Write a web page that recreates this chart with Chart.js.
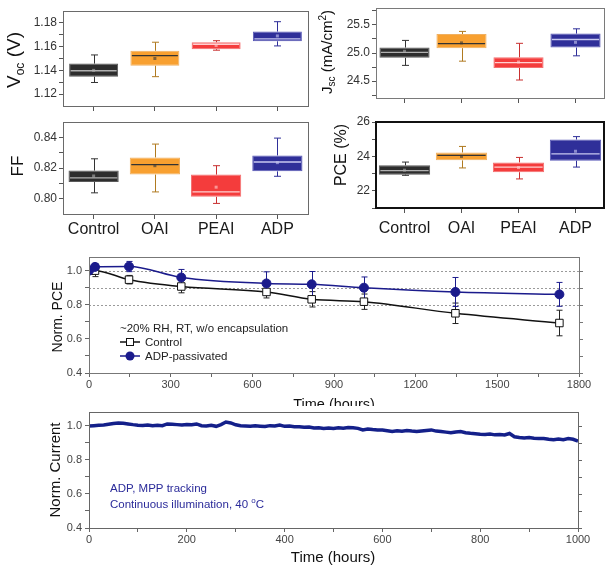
<!DOCTYPE html>
<html><head><meta charset="utf-8">
<script src="https://cdn.jsdelivr.net/npm/chart.js@4.4.0/dist/chart.umd.min.js"></script>
<style>
html,body{margin:0;padding:0;background:#fff;}
#wrap{position:relative;width:615px;height:571px;overflow:hidden;background:#fff;}
.c{position:absolute;overflow:hidden;}
</style></head><body><div id="wrap"></div>
<script>
const FONT = '"Liberation Sans", Arial, Helvetica, sans-serif';

// ---------------- DATA ----------------
const categories = ['Control', 'OAI', 'PEAI', 'ADP'];

const vocMin  = [1.1298, 1.1347, 1.1570, 1.1606];
const vocQ1   = [1.1347, 1.1439, 1.1578, 1.1645];
const vocMed  = [1.1397, 1.1525, 1.1620, 1.1665];
const vocQ3   = [1.1457, 1.1565, 1.1637, 1.1727];
const vocMax  = [1.1530, 1.1637, 1.1650, 1.1810];
const vocMean = [1.1400, 1.1500, 1.1610, 1.1690];
const vocTicks = [1.12, 1.14, 1.16, 1.18];
const vocMinor = [1.13, 1.15, 1.17];

const jscMin  = [24.78, 24.855, 24.52, 24.95];
const jscQ1   = [24.914, 25.086, 24.734, 25.097];
const jscMed  = [25.01, 25.166, 24.828, 25.24];
const jscQ3   = [25.097, 25.338, 24.924, 25.345];
const jscMax  = [25.224, 25.384, 25.172, 25.43];
const jscMean = [25.03, 25.18, 24.84, 25.19];
const jscTicks = [24.5, 25.0, 25.5];
const jscMinor = [24.25, 24.75, 25.25, 25.75];

const ffMin  = [0.8038, 0.8044, 0.7969, 0.8146];
const ffQ1   = [0.8109, 0.8157, 0.8012, 0.8178];
const ffMed  = [0.8135, 0.8222, 0.8044, 0.8239];
const ffQ3   = [0.8183, 0.8269, 0.8157, 0.8282];
const ffMax  = [0.8260, 0.8356, 0.8215, 0.8395];
const ffMean = [0.8148, 0.8215, 0.8075, 0.8235];
const ffTicks = [0.80, 0.82, 0.84];
const ffMinor = [0.81, 0.83];

const pceMin  = [22.90, 23.33, 22.69, 23.38];
const pceQ1   = [22.94, 23.77, 23.08, 23.75];
const pceMed  = [23.17, 24.06, 23.38, 24.15];
const pceQ3   = [23.48, 24.23, 23.65, 24.98];
const pceMax  = [23.67, 24.58, 23.94, 25.15];
const pceMean = [23.20, 24.00, 23.35, 24.30];
const pceTicks = [22, 24, 26];
const pceMinor = [21, 23, 25];

const stabHours      = [0, 22, 147, 339, 652, 818, 1010, 1346, 1728];
const stabControl    = [1.000, 1.000, 0.947, 0.907, 0.875, 0.832, 0.818, 0.750, 0.693];
const stabControlErr = [0, 0.035, 0.025, 0.037, 0.035, 0.045, 0.045, 0.060, 0.075];
const stabADP        = [1.000, 1.022, 1.024, 0.960, 0.925, 0.920, 0.900, 0.875, 0.861];
const stabADPErr     = [0, 0.020, 0.030, 0.047, 0.068, 0.075, 0.063, 0.085, 0.070];
const stabRefLines   = [0.8, 0.9, 1.0];
const stabXTicks = [0, 300, 600, 900, 1200, 1500, 1800];
const stabXMinor = [150, 450, 750, 1050, 1350, 1650];
const normYTicks = [0.4, 0.6, 0.8, 1.0];
const normYMinor = [0.5, 0.7, 0.9];

const mppHours = [0,10,20,30,40,50,60,70,80,90,100,110,120,130,140,150,160,170,180,190,200,
  210,220,230,240,250,260,270,280,290,300,310,320,330,340,350,360,370,380,390,400,
  410,420,430,440,450,460,470,480,490,500,510,520,530,540,550,560,570,580,590,600,
  610,620,630,640,650,660,670,680,690,700,710,720,730,740,750,760,770,780,790,800,
  810,820,830,840,850,860,870,880,890,900,910,920,930,940,950,960,970,980,990,1000];
const mppCurrent = [0.998,1.000,1.002,1.004,1.008,1.012,1.016,1.014,1.010,1.006,1.003,
  1.001,1.004,0.999,1.002,1.000,1.010,1.008,1.006,1.004,1.007,
  1.005,1.010,1.000,0.998,1.002,0.996,1.006,1.021,1.016,1.005,
  1.000,0.998,0.996,0.999,0.997,0.995,1.000,0.998,1.004,0.996,
  0.998,0.994,0.993,0.990,0.992,0.986,0.988,0.984,0.986,0.984,
  0.987,0.985,0.989,0.988,0.984,0.975,0.980,0.977,0.975,0.974,
  0.970,0.966,0.970,0.967,0.971,0.968,0.966,0.969,0.972,0.975,
  0.968,0.966,0.962,0.958,0.963,0.965,0.958,0.955,0.953,0.950,
  0.948,0.951,0.946,0.948,0.945,0.954,0.935,0.930,0.928,0.930,
  0.926,0.924,0.925,0.920,0.918,0.922,0.918,0.924,0.920,0.910];
const mppXTicks = [0, 200, 400, 600, 800, 1000];
const mppXMinor = [100, 300, 500, 700, 900];

// ---------------- STYLE ----------------
const boxFill   = ['#2d2d2d', '#f8a030', '#f43c3c', '#2f2f99'];
const boxEdge   = ['#5a5a5a', '#f0b060', '#f47070', '#5a5ab8'];
const boxWhisk  = ['#333333', '#b07a20', '#c83030', '#2f2f99'];
const boxMedian = ['#b0b0b0', '#333333', '#ffd0d0', '#c8c8f0'];

// ---------------- HELPERS ----------------
const wrap = document.getElementById('wrap');
function mount(area, yW, xH, clipBottom) {
  const padT = 14, padR = 20;
  const left = area.L - yW, top = area.T - padT;
  const w = area.R - left + padR, h = area.B - top + xH;
  const holder = document.createElement('div');
  holder.className = 'c';
  holder.style.left = left + 'px'; holder.style.top = top + 'px';
  holder.style.width = w + 'px';
  holder.style.height = (clipBottom ? clipBottom - top : h) + 'px';
  const cv = document.createElement('canvas');
  cv.width = w; cv.height = h; cv.style.width = w + 'px'; cv.style.height = h + 'px';
  holder.appendChild(cv); wrap.appendChild(holder);
  return {cv, left, top, padT, padR};
}
function near(a, b) { return Math.abs(a - b) < 1e-6; }
function tickSetup(major, minor, fmt) {
  return {
    afterBuildTicks: s => { s.ticks = major.concat(minor).sort((a, b) => a - b).map(v => ({value: v})); },
    callback: v => major.some(m => near(m, v)) ? fmt(v) : ''
  };
}
function drawRich(ctx, segs, x, y, rot, align, color) {
  ctx.save();
  ctx.translate(x, y);
  if (rot) ctx.rotate(rot);
  ctx.fillStyle = color || '#111';
  ctx.textBaseline = 'alphabetic';
  let total = 0, main = 0;
  segs.forEach(s => { ctx.font = s.size + 'px ' + FONT; s.w = ctx.measureText(s.t).width; total += s.w; main = Math.max(main, s.size); });
  let cx = align === 'left' ? 0 : -total / 2;
  const base = main * 0.36;
  segs.forEach(s => { ctx.font = s.size + 'px ' + FONT; ctx.fillText(s.t, cx, base + (s.dy || 0)); cx += s.w; });
  ctx.restore();
}
function line(ctx, x1, y1, x2, y2) { ctx.beginPath(); ctx.moveTo(x1, y1); ctx.lineTo(x2, y2); ctx.stroke(); }

const framePlugin = {
  id: 'frame',
  afterDraw(chart, args, o) {
    const {ctx, chartArea: a} = chart;
    ctx.save();
    ctx.strokeStyle = o.color || '#666';
    ctx.lineWidth = o.width || 1;
    const off = (o.width || 1) % 2 ? 0.5 : 0;
    ctx.strokeRect(Math.round(a.left) + off, Math.round(a.top) + off, Math.round(a.right - a.left), Math.round(a.bottom - a.top));
    if (o.mirror) {
      const ys = chart.scales.y;
      ctx.lineWidth = 1; ctx.strokeStyle = o.tickColor || '#666';
      ys.ticks.forEach(t => { const py = Math.round(ys.getPixelForValue(t.value)) + 0.5; line(ctx, a.right, py, a.right + 4, py); });
    }
    ctx.restore();
  }
};
const refPlugin = {
  id: 'reflines',
  beforeDatasetsDraw(chart, args, o) {
    if (!o.values) return;
    const {ctx, chartArea: a} = chart; const ys = chart.scales.y;
    ctx.save(); ctx.strokeStyle = '#9a9a9a'; ctx.lineWidth = 1; ctx.setLineDash([2, 2]);
    o.values.forEach(v => { const py = Math.round(ys.getPixelForValue(v)) + 0.5; line(ctx, a.left, py, a.right, py); });
    ctx.restore();
  }
};
const errPlugin = {
  id: 'errbars',
  beforeDatasetsDraw(chart, args, o) {
    if (!o.series) return;
    const {ctx} = chart; const xs = chart.scales.x, ys = chart.scales.y;
    ctx.save(); ctx.lineWidth = 1;
    o.series.forEach(s => {
      ctx.strokeStyle = s.color;
      s.x.forEach((xv, i) => {
        const e = s.err[i]; if (!e) return;
        const px = Math.round(xs.getPixelForValue(xv)) + 0.5;
        const p1 = ys.getPixelForValue(s.y[i] + e), p2 = ys.getPixelForValue(s.y[i] - e);
        line(ctx, px, p1, px, p2);
        line(ctx, px - 3, p1, px + 3, p1);
        line(ctx, px - 3, p2, px + 3, p2);
      });
    });
    ctx.restore();
  }
};
const boxPlugin = {
  id: 'boxp',
  afterDatasetsDraw(chart, args, o) {
    if (!o.min) return;
    const {ctx} = chart; const ys = chart.scales.y;
    const meta = chart.getDatasetMeta(0);
    meta.data.forEach((bar, i) => {
      const x = Math.round(bar.x) + 0.5, hw = bar.width / 2;
      const yq1 = ys.getPixelForValue(o.q1[i]), yq3 = ys.getPixelForValue(o.q3[i]);
      const ymin = ys.getPixelForValue(o.min[i]), ymax = ys.getPixelForValue(o.max[i]);
      const ymed = ys.getPixelForValue(o.med[i]), ymean = ys.getPixelForValue(o.mean[i]);
      ctx.save();
      ctx.strokeStyle = boxWhisk[i]; ctx.lineWidth = 1;
      line(ctx, x, yq3, x, ymax); line(ctx, x, yq1, x, ymin);
      line(ctx, x - 3.5, ymax, x + 3.5, ymax); line(ctx, x - 3.5, ymin, x + 3.5, ymin);
      ctx.strokeStyle = boxMedian[i]; ctx.lineWidth = 1.3;
      line(ctx, bar.x - hw + 1.5, ymed, bar.x + hw - 1.5, ymed);
      ctx.fillStyle = boxMedian[i];
      ctx.globalAlpha = 0.6;
      ctx.fillRect(bar.x - 1.5, ymean - 1.5, 3, 3);
      ctx.restore();
    });
  }
};
const textPlugin = {
  id: 'texts',
  afterDraw(chart, args, o) {
    if (!o.items) return;
    const ctx = chart.ctx;
    o.items.forEach(it => {
      if (it.sym) {
        ctx.save();
        ctx.strokeStyle = it.color; ctx.lineWidth = 1.5;
        line(ctx, it.x - o.offX, it.y - o.offY, it.x2 - o.offX, it.y - o.offY);
        const mx = (it.x + it.x2) / 2 - o.offX, my = it.y - o.offY;
        ctx.lineWidth = 1;
        if (it.sym === 'rect') { ctx.fillStyle = '#fff'; ctx.fillRect(mx - 4, my - 4, 8, 8); ctx.strokeRect(mx - 3.5, my - 3.5, 7, 7); }
        else { ctx.fillStyle = it.color; ctx.beginPath(); ctx.arc(mx, my, 4.5, 0, Math.PI * 2); ctx.fill(); }
        ctx.restore();
      } else {
        drawRich(ctx, it.segs, it.x - o.offX, it.y - o.offY, it.rot || 0, it.align || 'center', it.color);
      }
    });
  }
};

const baseOpts = (m) => ({
  responsive: false, animation: false, devicePixelRatio: 1, events: [],
  layout: {padding: {left: 0, top: m.padT, right: m.padR, bottom: 0}}
});

// ---------------- BOX CHARTS ----------------
function boxChart(cfg) {
  const m = mount(cfg.area, cfg.yW, cfg.xH);
  const ts = tickSetup(cfg.major, cfg.minor, cfg.fmt);
  const opts = baseOpts(m);
  opts.plugins = {
    legend: {display: false}, tooltip: {enabled: false},
    frame: {color: cfg.frameColor, width: cfg.frameWidth},
    boxp: {min: cfg.min, q1: cfg.q1, med: cfg.med, q3: cfg.q3, max: cfg.max, mean: cfg.mean},
    texts: {offX: m.left, offY: m.top, items: [cfg.title]}
  };
  opts.scales = {
    x: {
      grid: {display: true, drawOnChartArea: false, drawTicks: true, tickLength: 5, offset: false, tickColor: '#555'},
      border: {display: false},
      ticks: {display: cfg.showX, font: {size: 16, family: FONT}, color: '#1a1a1a', padding: cfg.xPad, autoSkip: false, maxRotation: 0},
      afterFit: s => { s.height = cfg.xH; }
    },
    y: {
      min: cfg.yMin, max: cfg.yMax,
      grid: {drawOnChartArea: false, tickLength: 4, tickColor: '#555'},
      border: {display: false},
      ticks: {font: {size: 12, family: FONT}, color: '#333', padding: 2, autoSkip: false, callback: ts.callback},
      afterBuildTicks: ts.afterBuildTicks,
      afterFit: s => { s.width = cfg.yW; }
    }
  };
  new Chart(m.cv, {
    type: 'bar',
    data: {labels: categories, datasets: [{
      data: categories.map((c, i) => [cfg.q1[i], cfg.q3[i]]),
      backgroundColor: boxFill, borderColor: boxEdge, borderWidth: 1, borderSkipped: false,
      barPercentage: cfg.bp, categoryPercentage: 1
    }]},
    options: opts,
    plugins: [framePlugin, boxPlugin, textPlugin]
  });
}

boxChart({area: {L: 63, T: 11, R: 308, B: 106}, yW: 63, xH: 10, showX: false, xPad: 0, bp: 0.8,
  yMin: 1.11, yMax: 1.19, major: vocTicks, minor: vocMinor, fmt: v => v.toFixed(2),
  min: vocMin, q1: vocQ1, med: vocMed, q3: vocQ3, max: vocMax, mean: vocMean,
  frameColor: '#6a6a6a', frameWidth: 1,
  title: {segs: [{t: 'V', size: 19}, {t: 'oc', size: 12, dy: 4}, {t: ' (V)', size: 19}], x: 13, y: 60, rot: -Math.PI / 2}});

boxChart({area: {L: 63, T: 122, R: 308, B: 214}, yW: 63, xH: 30, showX: true, xPad: 1, bp: 0.82,
  yMin: 0.79, yMax: 0.85, major: ffTicks, minor: ffMinor, fmt: v => v.toFixed(2),
  min: ffMin, q1: ffQ1, med: ffMed, q3: ffQ3, max: ffMax, mean: ffMean,
  frameColor: '#6a6a6a', frameWidth: 1,
  title: {segs: [{t: 'FF', size: 17}], x: 17, y: 166, rot: -Math.PI / 2}});

boxChart({area: {L: 376, T: 8, R: 604, B: 98}, yW: 64, xH: 10, showX: false, xPad: 0, bp: 0.88,
  yMin: 24.2, yMax: 25.8, major: jscTicks, minor: jscMinor, fmt: v => v.toFixed(1),
  min: jscMin, q1: jscQ1, med: jscMed, q3: jscQ3, max: jscMax, mean: jscMean,
  frameColor: '#7a7a7a', frameWidth: 1,
  title: {segs: [{t: 'J', size: 15}, {t: 'sc', size: 10, dy: 3}, {t: ' (mA/cm', size: 15}, {t: '2', size: 10, dy: -6}, {t: ')', size: 15}], x: 327, y: 52, rot: -Math.PI / 2}});

boxChart({area: {L: 376, T: 122, R: 604, B: 208}, yW: 64, xH: 36, showX: true, xPad: 6, bp: 0.9,
  yMin: 21, yMax: 26, major: pceTicks, minor: pceMinor, fmt: v => String(Math.round(v)),
  min: pceMin, q1: pceQ1, med: pceMed, q3: pceQ3, max: pceMax, mean: pceMean,
  frameColor: '#111', frameWidth: 2,
  title: {segs: [{t: 'PCE (%)', size: 16}], x: 340, y: 155, rot: -Math.PI / 2}});

// ---------------- STABILITY (middle) ----------------
(function () {
  const m = mount({L: 89, T: 257, R: 579, B: 373}, 89, 40, 406);
  const tx = tickSetup(stabXTicks, stabXMinor, v => String(Math.round(v)));
  const ty = tickSetup(normYTicks, normYMinor, v => v.toFixed(1));
  const opts = baseOpts(m);
  opts.plugins = {
    legend: {display: false}, tooltip: {enabled: false},
    frame: {color: '#777', width: 1, mirror: true, tickColor: '#777'},
    reflines: {values: stabRefLines},
    errbars: {series: [
      {x: stabHours, y: stabControl, err: stabControlErr, color: '#222'},
      {x: stabHours, y: stabADP, err: stabADPErr, color: '#1b1b8c'}
    ]},
    texts: {offX: m.left, offY: m.top, items: [
      {segs: [{t: 'Norm. PCE', size: 14}], x: 57, y: 317, rot: -Math.PI / 2},
      {segs: [{t: 'Time (hours)', size: 14.5}], x: 334, y: 404},
      {segs: [{t: '~20% RH, RT, w/o encapsulation', size: 11.5}], x: 120, y: 328, align: 'left', color: '#222'},
      {sym: 'rect', x: 120, x2: 140, y: 342, color: '#111'},
      {segs: [{t: 'Control', size: 11.5}], x: 145, y: 342, align: 'left', color: '#222'},
      {sym: 'circle', x: 120, x2: 140, y: 356, color: '#1b1b8c'},
      {segs: [{t: 'ADP-passivated', size: 11.5}], x: 145, y: 356, align: 'left', color: '#222'}
    ]}
  };
  opts.scales = {
    x: {type: 'linear', min: 0, max: 1800,
      grid: {drawOnChartArea: false, tickLength: 4, tickColor: '#666'}, border: {display: false},
      ticks: {font: {size: 11, family: FONT}, color: '#444', padding: 1, autoSkip: false, maxRotation: 0, callback: tx.callback},
      afterBuildTicks: tx.afterBuildTicks, afterFit: s => { s.height = 40; }},
    y: {min: 0.4, max: 1.08,
      grid: {drawOnChartArea: false, tickLength: 4, tickColor: '#666'}, border: {display: false},
      ticks: {font: {size: 11, family: FONT}, color: '#444', padding: 3, autoSkip: false, callback: ty.callback},
      afterBuildTicks: ty.afterBuildTicks, afterFit: s => { s.width = 89; }}
  };
  new Chart(m.cv, {
    type: 'line',
    data: {datasets: [
      {label: 'ADP-passivated', data: stabHours.map((h, i) => ({x: h, y: stabADP[i]})),
        borderColor: '#1b1b8c', backgroundColor: '#1b1b8c', borderWidth: 1.5, cubicInterpolationMode: 'monotone',
        pointStyle: 'circle', pointRadius: 4.5, pointBackgroundColor: '#1b1b8c', pointBorderColor: '#1b1b8c', pointBorderWidth: 1},
      {label: 'Control', data: stabHours.map((h, i) => ({x: h, y: stabControl[i]})),
        borderColor: '#111', backgroundColor: '#fff', borderWidth: 1.5, cubicInterpolationMode: 'monotone',
        pointStyle: 'rect', pointRadius: 5.3, pointBackgroundColor: '#fff', pointBorderColor: '#111', pointBorderWidth: 1}
    ]},
    options: opts,
    plugins: [framePlugin, refPlugin, errPlugin, textPlugin]
  });
})();

// ---------------- MPP tracking (bottom) ----------------
(function () {
  const m = mount({L: 89, T: 412, R: 578, B: 528}, 89, 43);
  const tx = tickSetup(mppXTicks, mppXMinor, v => String(Math.round(v)));
  const ty = tickSetup(normYTicks, normYMinor, v => v.toFixed(1));
  const opts = baseOpts(m);
  opts.plugins = {
    legend: {display: false}, tooltip: {enabled: false},
    frame: {color: '#666', width: 1, mirror: true, tickColor: '#666'},
    texts: {offX: m.left, offY: m.top, items: [
      {segs: [{t: 'Norm. Current', size: 15}], x: 55, y: 470, rot: -Math.PI / 2},
      {segs: [{t: 'Time (hours)', size: 15}], x: 333, y: 557},
      {segs: [{t: 'ADP, MPP tracking', size: 11.5}], x: 110, y: 488, align: 'left', color: '#2b2b9a'},
      {segs: [{t: 'Continuous illumination, 40 ', size: 11.5}, {t: 'o', size: 8, dy: -5}, {t: 'C', size: 11.5}], x: 110, y: 504, align: 'left', color: '#2b2b9a'}
    ]}
  };
  opts.scales = {
    x: {type: 'linear', min: 0, max: 1000,
      grid: {drawOnChartArea: false, tickLength: 4, tickColor: '#666'}, border: {display: false},
      ticks: {font: {size: 11, family: FONT}, color: '#444', padding: 1, autoSkip: false, maxRotation: 0, callback: tx.callback},
      afterBuildTicks: tx.afterBuildTicks, afterFit: s => { s.height = 43; }},
    y: {min: 0.4, max: 1.08,
      grid: {drawOnChartArea: false, tickLength: 4, tickColor: '#666'}, border: {display: false},
      ticks: {font: {size: 11, family: FONT}, color: '#444', padding: 3, autoSkip: false, callback: ty.callback},
      afterBuildTicks: ty.afterBuildTicks, afterFit: s => { s.width = 89; }}
  };
  new Chart(m.cv, {
    type: 'line',
    data: {datasets: [{label: 'ADP, MPP tracking', data: mppHours.map((h, i) => ({x: h, y: mppCurrent[i]})),
      borderColor: '#14208a', borderWidth: 3.5, pointRadius: 0, tension: 0}]},
    options: opts,
    plugins: [framePlugin, textPlugin]
  });
})();
</script>
</body></html>
